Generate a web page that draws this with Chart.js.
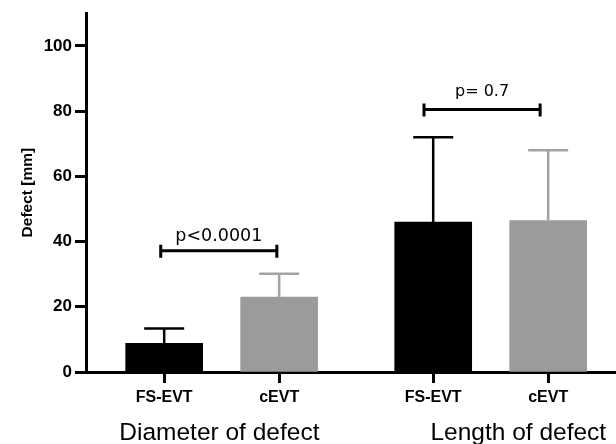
<!DOCTYPE html>
<html>
<head>
<meta charset="utf-8">
<script src="https://cdn.jsdelivr.net/npm/chart.js@4/dist/chart.umd.min.js"></script>
<style>
  html, body { margin: 0; padding: 0; background: #fff; }
  #wrap { width: 616px; height: 444px; position: relative; }
</style>
</head>
<body>
<div id="wrap"><canvas id="c" width="616" height="444"></canvas></div>
<script>
// ---- data ----
const categories = ['FS-EVT', 'cEVT', 'FS-EVT', 'cEVT'];
const groups = ['Diameter of defect', 'Length of defect'];
const meanValues = [8.8, 23.0, 46.0, 46.4];
const sdValues = [4.5, 7.1, 26.0, 21.6];
const yTickValues = [0, 20, 40, 60, 80, 100];
const comparisons = ['p<0.0001', 'p= 0.7'];
const comparisonHeights = [37.2, 80.5];

// ---- layout (not data) ----
const layoutCfg = {
  slots: [1, 2, 3.34, 4.34],
  xMin: 0.32, xMax: 4.93,
  bracketSpans: [[0.97, 1.98], [3.26, 4.27]],
  groupLabelX: [1.48, 4.08],
  barColors: ['#000000', '#9b9b9b', '#000000', '#9b9b9b'],
  errColors: ['#000000', '#a3a3a3', '#000000', '#a3a3a3']
};

const overlay = {
  id: 'overlay',
  afterDatasetsDraw(chart) {
    const ctx = chart.ctx;
    const xs = chart.scales.x, ys = chart.scales.y;
    ctx.save();
    meanValues.forEach((m, i) => {
      const x = xs.getPixelForValue(layoutCfg.slots[i]);
      const yb = ys.getPixelForValue(m);
      const yt = ys.getPixelForValue(m + sdValues[i]);
      ctx.strokeStyle = layoutCfg.errColors[i];
      ctx.lineWidth = 2.5;
      ctx.lineCap = 'butt';
      ctx.beginPath();
      ctx.moveTo(x, yb); ctx.lineTo(x, yt);
      ctx.moveTo(x - 20, yt); ctx.lineTo(x + 20, yt);
      ctx.stroke();
    });
    comparisons.forEach((txt, i) => {
      const x1 = xs.getPixelForValue(layoutCfg.bracketSpans[i][0]);
      const x2 = xs.getPixelForValue(layoutCfg.bracketSpans[i][1]);
      const y = ys.getPixelForValue(comparisonHeights[i]);
      ctx.strokeStyle = '#000';
      ctx.lineWidth = 3;
      ctx.beginPath();
      ctx.moveTo(x1, y); ctx.lineTo(x2, y);
      ctx.moveTo(x1, y - 6); ctx.lineTo(x1, y + 7);
      ctx.moveTo(x2, y - 6); ctx.lineTo(x2, y + 7);
      ctx.stroke();
      ctx.fillStyle = '#000';
      ctx.font = (i === 0 ? '17.5px' : '16px') + ' "DejaVu Sans", sans-serif';
      ctx.textAlign = 'center';
      ctx.textBaseline = 'alphabetic';
      ctx.fillText(txt, (x1 + x2) / 2, y - (i === 0 ? 10 : 13));
    });
    ctx.restore();
  },
  afterDraw(chart) {
    const ctx = chart.ctx;
    const xs = chart.scales.x;
    ctx.save();
    ctx.fillStyle = '#000';
    ctx.font = '24.5px "Liberation Sans", Arial, sans-serif';
    ctx.textAlign = 'center';
    ctx.textBaseline = 'alphabetic';
    groups.forEach((g, i) => {
      ctx.fillText(g, xs.getPixelForValue(layoutCfg.groupLabelX[i]), 440);
    });
    ctx.restore();
  }
};

new Chart(document.getElementById('c'), {
  type: 'bar',
  data: {
    datasets: [{
      data: meanValues.map((v, i) => ({ x: layoutCfg.slots[i], y: v })),
      backgroundColor: layoutCfg.barColors,
      borderWidth: 0,
      barThickness: 77
    }]
  },
  options: {
    responsive: false,
    animation: false,
    devicePixelRatio: 1,
    layout: { padding: { top: 12, right: 0, bottom: 0, left: 0 } },
    plugins: { legend: { display: false }, tooltip: { enabled: false } },
    scales: {
      x: {
        type: 'linear',
        offset: false,
        min: layoutCfg.xMin, max: layoutCfg.xMax,
        z: 1,
        afterBuildTicks(scale) { scale.ticks = layoutCfg.slots.map(v => ({ value: v })); },
        afterFit(scale) { scale.height = 72; },
        ticks: {
          autoSkip: false, maxRotation: 0, padding: 4.5,
          color: '#000',
          font: { family: '"Liberation Sans", Arial, sans-serif', size: 16, weight: 'bold' },
          callback: (v, i) => categories[i]
        },
        grid: { offset: false, drawOnChartArea: false, drawTicks: true, tickLength: 11, tickWidth: 3, tickColor: '#000' },
        border: { display: true, color: '#000', width: 3 }
      },
      y: {
        type: 'linear',
        min: 0, max: 110,
        z: 1,
        afterBuildTicks(scale) { scale.ticks = yTickValues.map(v => ({ value: v })); },
        afterFit(scale) { scale.width = 86; },
        ticks: {
          padding: 3, color: '#000',
          font: { family: '"Liberation Sans", Arial, sans-serif', size: 17, weight: 'bold' }
        },
        grid: { drawOnChartArea: false, drawTicks: true, tickLength: 11, tickWidth: 3, tickColor: '#000' },
        border: { display: true, color: '#000', width: 3 },
        title: {
          display: true, text: 'Defect [mm]', color: '#000',
          font: { family: '"Liberation Sans", Arial, sans-serif', size: 15.5, weight: 'bold' },
          padding: { top: 18, bottom: 0 }
        }
      }
    }
  },
  plugins: [overlay]
});
</script>
</body>
</html>
